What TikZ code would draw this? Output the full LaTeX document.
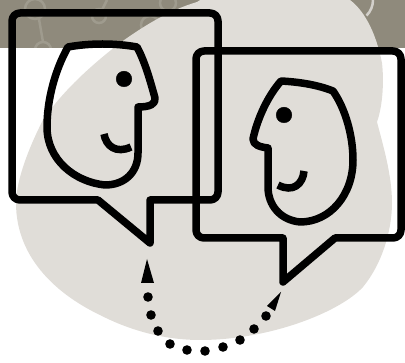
\documentclass[tikz,border=0pt]{standalone}
\usepackage{xcolor}
\definecolor{bandgray}{HTML}{8F8A7C}
\definecolor{bloblight}{HTML}{E0DDD8}
\definecolor{netgray}{HTML}{9F9B8E}
\begin{document}
\begin{tikzpicture}[x=1pt, y=-1pt,
  outline/.style={line width=7.5pt, line join=round, line cap=round},
  netline/.style={line width=2.5pt, netgray}]
  \useasboundingbox (0,0) rectangle (405,363);
  % Band
  \fill[bandgray] (0,0) rectangle (405,48);
  % Faint network in the band
  \begin{scope}
    \clip (0,0) rectangle (405,48);
    \draw[netline] (35,9) circle (10);
    \draw[netline] (39,19) -- (43,42);
    \draw[netline] (43,50) circle (8);
    \draw[netline] (99,16) circle (7);
    \draw[netline] (102,10) -- (107,0);
    \draw[netline] (168,3) circle (8);
    \draw[netline] (150,25) circle (9);
  \end{scope}
  % Blob
  \begin{scope}
    \clip (0,0) rectangle (405,363);
    \fill[bloblight] (350,0) .. controls (362,9) and (375,28) .. (382,63)
      .. controls (384,80) and (383,105) .. (377,122)
      .. controls (383,145) and (392,175) .. (392,203)
      .. controls (392,225) and (385,260) .. (363,287)
      .. controls (340,312) and (270,340) .. (200,340)
      .. controls (160,340) and (125,328) .. (100,315)
      .. controls (60,296) and (16,260) .. (16,203)
      .. controls (16,185) and (25,155) .. (43,120)
      .. controls (60,95) and (85,70) .. (120,43)
      .. controls (145,25) and (170,10) .. (197,2)
      .. controls (230,-20) and (310,-30) .. (350,0) -- cycle;
    \draw[line width=2.5pt, black!6!bloblight] (350,-5) ++(23,5) arc (0:45:22);
  \end{scope}
  % Left bubble
  \draw[outline] (98,200) -- (150,243) -- (150,200) [rounded corners=8pt] -- (218,200)
    -- (218,13) -- (12,13) -- (12,200) -- (98,200);
  % Right bubble
  \draw[outline] (335,238) -- (283,282) -- (283,238) [rounded corners=8pt] -- (196,238)
    -- (196,51) -- (401,51) -- (401,238) -- (335,238);
  % Left face
  \draw[outline] (68,47) .. controls (90,43) and (115,43) .. (137,47)
    .. controls (145,62) and (150,80) .. (155,98)
    .. controls (156,104) and (150,107) .. (138,107)
    -- (138,153) .. controls (138,172) and (125,185) .. (105,185)
    .. controls (75,182) and (47,160) .. (47,127)
    .. controls (47,100) and (55,70) .. (68,47) -- cycle;
  \filldraw[black] (124,79) circle (7.8);
  \draw[line width=7.5pt] (104,134) .. controls (106,146) and (116,154) .. (131,147);
  % Right face
  \draw[outline] (281,81) .. controls (300,82) and (318,85) .. (333,91)
    .. controls (345,108) and (353,135) .. (353,160)
    .. controls (353,195) and (330,222) .. (300,222)
    .. controls (280,220) and (268,205) .. (268,187)
    -- (268,148) .. controls (260,147) and (253,145) .. (253,139)
    .. controls (257,120) and (267,97) .. (281,81) -- cycle;
  \filldraw[black] (284,115) circle (7.8);
  \draw[line width=7.5pt] (304,171) .. controls (303,184) and (293,193) .. (278,185);
  % Dots and arrowheads
  \foreach \px/\py in {148/297, 151/315, 158/331, 170/344, 187/350, 205/351,
                       223/347, 240/340, 254/329, 266/316}
    \fill[black] (\px,\py) circle (4.8);
  \fill[black] (147,259) -- (154,283) -- (141,283) -- cycle;
  \fill[black] (281,292) -- (275,311) -- (267,306) -- cycle;
\end{tikzpicture}
\end{document}
